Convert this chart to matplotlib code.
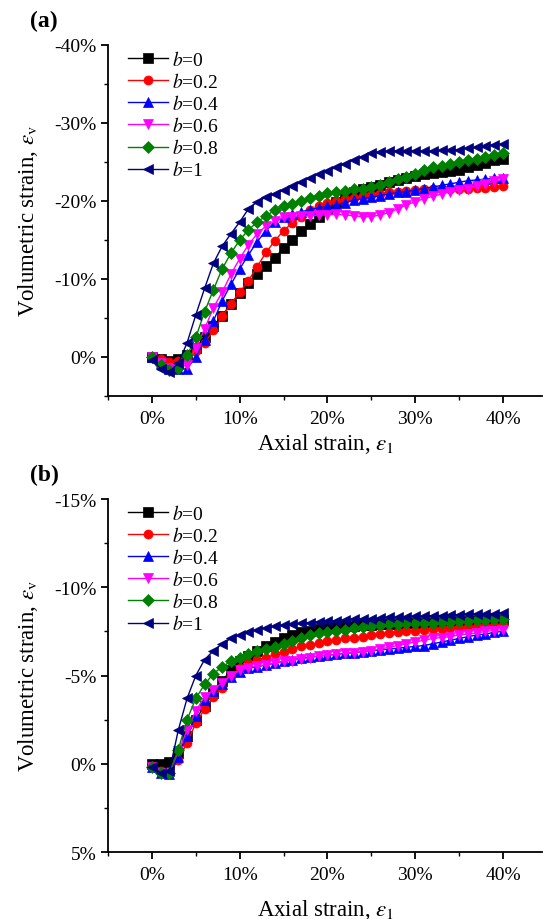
import numpy as np
import matplotlib
matplotlib.use("Agg")
import matplotlib.pyplot as plt
from matplotlib.ticker import MultipleLocator, FuncFormatter

plt.rcParams['font.family'] = ['Liberation Serif', 'DejaVu Serif']
plt.rcParams['mathtext.fontset'] = 'stix'

# axial strain (%) - same sampling for both panels
strain = np.arange(0, 41, 1)

labels = ["$b$=0", "$b$=0.2", "$b$=0.4", "$b$=0.6", "$b$=0.8", "$b$=1"]
colors = ["black", "red", "blue", "magenta", "green", "navy"]
markers = ["s", "o", "^", "v", "D", "<"]

# panel (a) volumetric strain (%)
a_b0 = [0, 0.3, 0.5, 0.3, -0.3, -1.2, -2.5, -4.0, -5.3, -6.8, -8.2, -9.5, -10.6, -11.7, -12.7,
        -14.0, -15.0, -16.1, -17.0, -17.9, -19.0, -19.9, -20.6, -21.1, -21.5, -21.8, -22.1,
        -22.4, -22.7, -23.0, -23.2, -23.4, -23.6, -23.7, -23.8, -24.0, -24.3, -24.6, -24.9,
        -25.2, -25.4]
a_b02 = [0, 0.3, 0.6, 0.5, 0, -0.8, -1.8, -3.4, -5.2, -6.8, -8.3, -9.8, -11.6, -13.4, -14.9,
         -16.2, -17.2, -18.0, -18.8, -19.3, -19.8, -20.0, -20.2, -20.4, -20.6, -20.8, -20.9,
         -21.1, -21.2, -21.3, -21.4, -21.5, -21.5, -21.5, -21.5, -21.6, -21.6, -21.7, -21.7,
         -21.8, -21.9]
a_b04 = [0, 0.8, 1.5, 1.6, 1.5, 0, -2.2, -4.6, -7.2, -9.3, -11.3, -13.1, -14.8, -16.2, -17.3,
         -17.9, -18.3, -18.6, -18.9, -19.1, -19.3, -19.5, -19.8, -20.1, -20.3, -20.5, -20.7,
         -20.9, -21.1, -21.2, -21.4, -21.6, -21.8, -22.0, -22.2, -22.4, -22.6, -22.7, -22.8,
         -22.9, -23.0]
a_b06 = [0, 0.8, 1.4, 1.5, 1.0, -1.2, -3.6, -6.3, -8.3, -10.6, -12.6, -14.4, -15.8, -16.8,
         -17.4, -17.9, -18.0, -18.1, -18.1, -18.2, -18.2, -18.3, -18.2, -18.1, -18.0, -18.0,
         -18.2, -18.5, -19.0, -19.5, -19.9, -20.3, -20.6, -20.9, -21.2, -21.4, -21.6, -21.9,
         -22.2, -22.5, -22.8]
a_b08 = [0, 1.0, 1.7, 1.4, -0.2, -2.5, -5.8, -8.6, -11.3, -13.3, -15.0, -16.3, -17.3, -18.1,
         -18.8, -19.3, -19.6, -20.0, -20.4, -20.7, -21.0, -21.2, -21.3, -21.5, -21.6, -21.8,
         -22.1, -22.4, -22.8, -23.1, -23.5, -24.0, -24.3, -24.5, -24.8, -25.0, -25.2, -25.4,
         -25.6, -25.9, -26.2]
a_b1 = [0.4, 1.5, 1.9, 0.8, -1.8, -5.4, -8.8, -12.0, -14.2, -15.8, -17.3, -19.0, -19.9, -20.5,
        -20.9, -21.4, -21.9, -22.4, -23.0, -23.5, -23.9, -24.3, -24.8, -25.3, -25.7, -26.1,
        -26.3, -26.4, -26.4, -26.4, -26.4, -26.4, -26.4, -26.5, -26.5, -26.6, -26.8, -26.9,
        -27.0, -27.2, -27.3]

# panel (b) volumetric strain (%)
b_b0 = [0, 0, -0.1, -0.6, -1.6, -2.5, -3.3, -4.0, -4.7, -5.3, -5.8, -6.1, -6.4, -6.7, -6.9,
        -7.1, -7.3, -7.45, -7.55, -7.65, -7.7, -7.75, -7.8, -7.8, -7.85, -7.85, -7.9, -7.9,
        -7.9, -7.95, -7.95, -8.0, -8.0, -8.0, -8.05, -8.05, -8.1, -8.1, -8.1, -8.15, -8.15]
b_b02 = [0.1, 0.4, 0.5, -0.2, -1.2, -2.3, -3.1, -3.8, -4.3, -5.0, -5.4, -5.7, -5.9, -6.0, -6.2,
         -6.35, -6.5, -6.65, -6.75, -6.85, -6.95, -7.0, -7.1, -7.15, -7.2, -7.3, -7.35, -7.4,
         -7.45, -7.5, -7.55, -7.6, -7.65, -7.65, -7.7, -7.7, -7.75, -7.75, -7.8, -7.8, -7.85]
b_b04 = [0.2, 0.5, 0.6, -0.4, -1.6, -2.7, -3.6, -4.1, -4.5, -4.9, -5.2, -5.4, -5.5, -5.6, -5.7,
         -5.8, -5.9, -6.0, -6.05, -6.1, -6.15, -6.2, -6.25, -6.3, -6.35, -6.4, -6.45, -6.5,
         -6.55, -6.6, -6.65, -6.7, -6.8, -6.9, -7.0, -7.1, -7.2, -7.3, -7.35, -7.45, -7.5]
b_b06 = [0.2, 0.5, 0.5, -0.7, -1.9, -3.0, -3.8, -4.2, -4.6, -5.0, -5.3, -5.45, -5.55, -5.6,
         -5.7, -5.8, -5.85, -5.95, -6.0, -6.1, -6.15, -6.2, -6.25, -6.3, -6.35, -6.4, -6.5,
         -6.6, -6.7, -6.8, -6.9, -7.0, -7.1, -7.15, -7.2, -7.3, -7.35, -7.4, -7.5, -7.55, -7.6]
b_b08 = [0.2, 0.5, 0.5, -0.8, -2.5, -3.7, -4.5, -5.1, -5.5, -5.8, -6.0, -6.2, -6.4, -6.5, -6.6,
         -6.8, -6.95, -7.1, -7.3, -7.4, -7.45, -7.5, -7.6, -7.7, -7.75, -7.8, -7.85, -7.9, -7.9,
         -7.95, -7.95, -8.0, -8.0, -8.05, -8.05, -8.1, -8.1, -8.15, -8.15, -8.2, -8.2]
b_b1 = [0.2, 0.5, 0.4, -1.9, -3.7, -5.0, -5.9, -6.4, -6.8, -7.1, -7.3, -7.45, -7.6, -7.7, -7.8,
        -7.85, -7.9, -7.95, -8.0, -8.05, -8.1, -8.1, -8.15, -8.2, -8.2, -8.2, -8.25, -8.3, -8.3,
        -8.3, -8.35, -8.35, -8.4, -8.4, -8.45, -8.45, -8.5, -8.5, -8.5, -8.5, -8.55]

panel_a = [a_b0, a_b02, a_b04, a_b06, a_b08, a_b1]
panel_b = [b_b0, b_b02, b_b04, b_b06, b_b08, b_b1]

pct = FuncFormatter(lambda v, p: "%d%%" % round(v))

fig = plt.figure(figsize=(5.43, 9.2), dpi=100)
ax1 = fig.add_axes([0.199, 0.5685, 0.80, 0.3815])
ax2 = fig.add_axes([0.199, 0.0728, 0.80, 0.3837])


def draw(ax, data, ylim, major, tag, xpad):
    for y, c, m, lab in zip(data, colors, markers, labels):
        ax.plot(strain, y, color=c, marker=m, markersize=6.5, linewidth=1.0,
                markeredgewidth=0.5, label=lab)
    ax.set_xlim(-5, 44.5)
    ax.set_ylim(ylim)
    ax.xaxis.set_major_locator(MultipleLocator(10))
    ax.xaxis.set_minor_locator(MultipleLocator(5))
    ax.yaxis.set_major_locator(MultipleLocator(major))
    ax.yaxis.set_minor_locator(MultipleLocator(major / 2))
    ax.xaxis.set_major_formatter(pct)
    ax.yaxis.set_major_formatter(pct)
    ax.set_xticks([0, 10, 20, 30, 40])
    ax.spines['top'].set_visible(False)
    ax.spines['right'].set_visible(False)
    ax.spines['left'].set_linewidth(1.3)
    ax.spines['bottom'].set_linewidth(1.3)
    ax.tick_params(which='major', direction='out', length=5, width=1.3, labelsize=14)
    ax.tick_params(axis='x', which='major', pad=5)
    ax.tick_params(which='minor', direction='out', length=3, width=1.0)
    ax.set_xlabel(r"Axial strain, $\varepsilon_{\rm 1}$", fontsize=16.5, labelpad=xpad)
    ax.set_ylabel(r"Volumetric strain, $\varepsilon_{\rm v}$", fontsize=16.5, labelpad=10)
    ax.legend(loc='upper left', frameon=False, fontsize=14, handlelength=2.05,
              labelspacing=0.16, handletextpad=0.25, bbox_to_anchor=(0.005, 1.036))
    ax.text(-0.18, 1.07, tag, transform=ax.transAxes, fontsize=17,
            fontweight='bold', ha='left', va='center')


draw(ax1, panel_a, (5, -40), 10, "(a)", 3)
draw(ax2, panel_b, (5, -15), 5, "(b)", 10)

fig.savefig("out.png", dpi=100)
